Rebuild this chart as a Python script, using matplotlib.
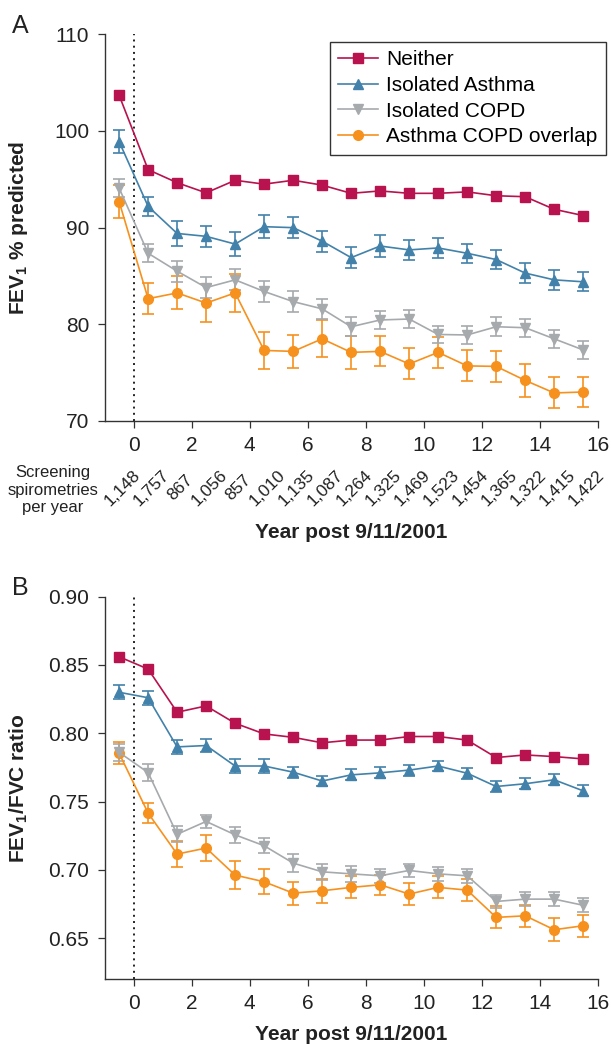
import matplotlib
matplotlib.use('Agg')
import matplotlib.pyplot as plt
from matplotlib.transforms import blended_transform_factory

plt.rcParams['font.family'] = ['Liberation Sans', 'DejaVu Sans']
plt.rcParams['mathtext.fontset'] = 'custom'
plt.rcParams['mathtext.rm'] = 'Liberation Sans:bold'
plt.rcParams['mathtext.bf'] = 'Liberation Sans:bold'
plt.rcParams['mathtext.default'] = 'bf'

# year midpoints post 9/11/2001
years = [-0.5, 0.5, 1.5, 2.5, 3.5, 4.5, 5.5, 6.5, 7.5, 8.5,
         9.5, 10.5, 11.5, 12.5, 13.5, 14.5, 15.5]
screenings = ['1,148', '1,757', '867', '1,056', '857', '1,010', '1,135', '1,087',
              '1,264', '1,325', '1,469', '1,523', '1,454', '1,365', '1,322',
              '1,415', '1,422']

labels = ['Neither', 'Isolated Asthma', 'Isolated COPD', 'Asthma COPD overlap']
colors = ['#b8124f', '#4282aa', '#a6aaad', '#f7911e']
markers = ['s', '^', 'v', 'o']
msizes = [7.5, 7.5, 7.5, 7.0]

# panel A: FEV1 % predicted
fev1_neither = [103.7, 96.0, 94.65, 93.6, 94.9, 94.5, 94.9, 94.4, 93.55, 93.8,
                93.55, 93.55, 93.7, 93.3, 93.2, 91.9, 91.25]
fev1_asthma = [98.9, 92.2, 89.4, 89.1, 88.3, 90.1, 90.0, 88.6, 86.9, 88.1,
               87.7, 87.9, 87.35, 86.7, 85.3, 84.6, 84.4]
fev1_asthma_err = [1.2, 1.0, 1.3, 1.1, 1.2, 1.2, 1.1, 1.1, 1.1, 1.1,
                   1.0, 1.0, 1.0, 1.0, 1.0, 1.0, 1.0]
fev1_copd = [94.1, 87.35, 85.5, 83.8, 84.6, 83.4, 82.35, 81.6, 79.75, 80.45,
             80.55, 78.95, 78.9, 79.75, 79.65, 78.5, 77.35]
fev1_copd_err = [0.95, 0.95, 1.1, 1.1, 1.1, 1.05, 1.05, 1.0, 1.0, 0.95,
                 0.95, 0.9, 0.9, 1.0, 0.95, 0.9, 0.95]
fev1_overlap = [92.7, 82.65, 83.25, 82.2, 83.25, 77.3, 77.2, 78.5, 77.1, 77.2,
                75.9, 77.1, 75.7, 75.65, 74.2, 72.9, 73.0]
fev1_overlap_err = [1.7, 1.6, 1.7, 1.95, 2.0, 1.9, 1.7, 1.9, 1.7, 1.55,
                    1.6, 1.6, 1.6, 1.6, 1.7, 1.6, 1.6]

# panel B: FEV1/FVC ratio
ratio_neither = [0.856, 0.847, 0.8154, 0.820, 0.8073, 0.7995, 0.797, 0.793, 0.795,
                 0.795, 0.7976, 0.7976, 0.795, 0.7822, 0.7841, 0.7829, 0.7812]
ratio_asthma = [0.830, 0.826, 0.790, 0.791, 0.776, 0.776, 0.7715, 0.765, 0.7695,
                0.771, 0.773, 0.776, 0.7707, 0.761, 0.763, 0.7659, 0.7578]
ratio_asthma_err = [0.005, 0.005, 0.005, 0.005, 0.005, 0.005, 0.004, 0.004, 0.004,
                    0.004, 0.004, 0.004, 0.004, 0.004, 0.004, 0.004, 0.004]
ratio_copd = [0.786, 0.7712, 0.726, 0.7354, 0.7256, 0.7176, 0.7049, 0.6985, 0.697,
              0.6956, 0.6995, 0.697, 0.6956, 0.6768, 0.6785, 0.6785, 0.674]
ratio_copd_err = [0.006, 0.006, 0.006, 0.005, 0.006, 0.0055, 0.0065, 0.006, 0.006,
                  0.005, 0.005, 0.005, 0.005, 0.005, 0.005, 0.005, 0.005]
ratio_overlap = [0.7854, 0.7415, 0.7115, 0.7159, 0.6961, 0.6912, 0.6829, 0.6846,
                 0.6871, 0.689, 0.6822, 0.6871, 0.6851, 0.6651, 0.6663, 0.6561, 0.659]
ratio_overlap_err = [0.008, 0.0075, 0.0095, 0.0098, 0.010, 0.009, 0.0085, 0.0086,
                     0.008, 0.0073, 0.008, 0.008, 0.008, 0.008, 0.008, 0.0085, 0.008]

W, H = 611, 1044
fig = plt.figure(figsize=(W / 100, H / 100), dpi=100)

ax_left = 104.6 / W
ax_width = (597.7 - 104.6) / W
axA = fig.add_axes([ax_left, 1 - 421 / H, ax_width, (421 - 34.3) / H])
axB = fig.add_axes([ax_left, 1 - 979 / H, ax_width, (979 - 596.7) / H])


def draw_panel(ax, series, errs):
    # back to front: overlap, copd, asthma, neither
    for i in [3, 2, 1, 0]:
        if errs[i] is not None:
            ax.errorbar(years, series[i], yerr=errs[i], fmt='none', ecolor=colors[i],
                        elinewidth=1.2, capsize=4.5, capthick=1.2, zorder=2)
        ax.plot(years, series[i], color=colors[i], marker=markers[i],
                markersize=msizes[i], linewidth=1.2, label=labels[i], zorder=3)
    ax.axvline(0, color='#222222', linestyle=(0, (1, 2.2)), linewidth=1.4, zorder=1)
    ax.set_xlim(-1, 16)
    ax.set_xticks(range(0, 17, 2))
    for side in ['top', 'right']:
        ax.spines[side].set_visible(False)
    for side in ['left', 'bottom']:
        ax.spines[side].set_linewidth(1.0)
        ax.spines[side].set_color('#333333')
    ax.tick_params(direction='out', length=5, width=0.9, color='#333333',
                   labelsize=15, labelcolor='#222222')
    ax.tick_params(axis='x', pad=6)
    ax.tick_params(axis='y', pad=6)


draw_panel(axA, [fev1_neither, fev1_asthma, fev1_copd, fev1_overlap],
           [None, fev1_asthma_err, fev1_copd_err, fev1_overlap_err])
axA.set_ylim(70, 110)
axA.set_yticks([70, 80, 90, 100, 110])

draw_panel(axB, [ratio_neither, ratio_asthma, ratio_copd, ratio_overlap],
           [None, ratio_asthma_err, ratio_copd_err, ratio_overlap_err])
axB.set_ylim(0.62, 0.90)
axB.set_yticks([0.65, 0.70, 0.75, 0.80, 0.85, 0.90])
axB.set_yticklabels(['0.65', '0.70', '0.75', '0.80', '0.85', '0.90'])

# legend in the original order
handles, hl = axA.get_legend_handles_labels()
order = [hl.index(l) for l in labels]
leg = axA.legend([handles[k] for k in order], labels, loc='upper right',
                 bbox_to_anchor=(605.7 / W, 1 - 42 / H), bbox_transform=fig.transFigure,
                 borderaxespad=0, fontsize=15, frameon=True, fancybox=False,
                 edgecolor='#333333', framealpha=1, handlelength=1.9,
                 labelspacing=0.32, borderpad=0.4, handletextpad=0.4)
leg.get_frame().set_linewidth(1.0)

# axis labels
axA.set_ylabel('FEV$_1$ % predicted', fontsize=15, fontweight='bold', color='#222222')
axB.set_ylabel('FEV$_1$/FVC ratio', fontsize=15, fontweight='bold', color='#222222')
for ax in (axA, axB):
    ax.yaxis.set_label_coords((30 - 104.6) / (597.7 - 104.6), 0.5)

x_mid = (104.6 + 597.7) / 2 / W
fig.text(x_mid, 1 - 533 / H, 'Year post 9/11/2001', fontsize=15, fontweight='bold',
         ha='center', va='center', color='#222222')
fig.text(x_mid, 1 - 1035 / H, 'Year post 9/11/2001', fontsize=15, fontweight='bold',
         ha='center', va='center', color='#222222')

# screening counts under panel A
trans = blended_transform_factory(axA.transData, fig.transFigure)
for yr, n in zip(years, screenings):
    axA.text(yr + 0.12, 1 - 488 / H, n, transform=trans, rotation=45, fontsize=12.5,
             ha='center', va='center', color='#222222', clip_on=False)
fig.text(53 / W, 1 - 490 / H, 'Screening\nspirometries\nper year', fontsize=12,
         ha='center', va='center', linespacing=1.2, color='#222222')

# panel letters
fig.text(12 / W, 1 - 26 / H, 'A', fontsize=18, va='center', ha='left', color='#222222')
fig.text(12 / W, 1 - 588 / H, 'B', fontsize=18, va='center', ha='left', color='#222222')

fig.savefig('out.png', dpi=100)
